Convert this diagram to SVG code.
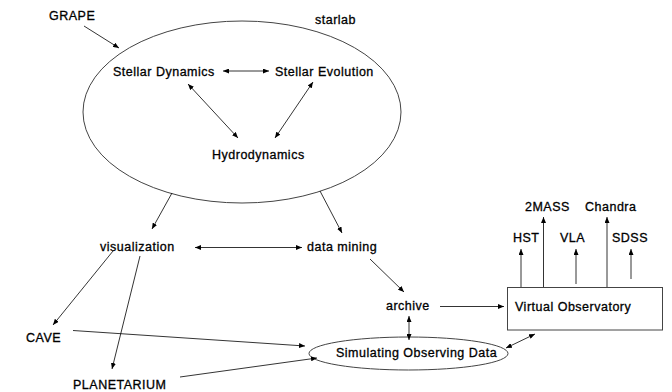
<svg xmlns="http://www.w3.org/2000/svg" width="672" height="392" viewBox="0 0 672 392">
<defs>
<marker id="ah" markerUnits="userSpaceOnUse" markerWidth="7" markerHeight="5" refX="6" refY="2.5" orient="auto-start-reverse">
<path d="M0,0 L6,2.5 L0,5 z" fill="#000"/>
</marker>
<style>
text{font-family:"Liberation Sans",Arial,sans-serif;font-size:12.5px;letter-spacing:0.5px;fill:#000;stroke:#000;stroke-width:0.3px}
.c{stroke:#000;stroke-width:0.8;fill:none}
.e{stroke:#444;stroke-width:1;fill:none}
</style>
</defs>
<rect width="672" height="392" fill="#fff"/>
<g id="starlab">
<ellipse class="e" cx="242" cy="112" rx="159" ry="91"/>
<text x="315" y="24">starlab</text>
</g>
<g id="grape"><text x="49" y="20">GRAPE</text></g>
<g id="stellar-dynamics"><text x="113" y="76">Stellar Dynamics</text></g>
<g id="stellar-evolution"><text x="275" y="76">Stellar Evolution</text></g>
<g id="hydrodynamics"><text x="212" y="159">Hydrodynamics</text></g>
<g id="visualization"><text x="100" y="251">visualization</text></g>
<g id="data-mining"><text x="307" y="251">data mining</text></g>
<g id="cave"><text x="26" y="342">CAVE</text></g>
<g id="planetarium"><text x="73" y="389">PLANETARIUM</text></g>
<g id="archive"><text x="386" y="310">archive</text></g>
<g id="simulating">
<ellipse class="e" cx="408.5" cy="353.5" rx="99.5" ry="16.5"/>
<text x="336" y="357">Simulating Observing Data</text>
</g>
<g id="virtual-observatory">
<rect class="e" x="507.5" y="287.5" width="155" height="42.5"/>
<text x="515" y="311">Virtual Observatory</text>
</g>
<g id="2mass"><text x="525" y="211">2MASS</text></g>
<g id="chandra"><text x="585" y="211">Chandra</text></g>
<g id="hst"><text x="513" y="242">HST</text></g>
<g id="vla"><text x="560" y="242">VLA</text></g>
<g id="sdss"><text x="612" y="242">SDSS</text></g>
<g id="connectors">
<line class="c" x1="84" y1="26" x2="119" y2="48" marker-end="url(#ah)"/>
<line class="c" x1="223" y1="71" x2="269" y2="71" marker-start="url(#ah)" marker-end="url(#ah)"/>
<line class="c" x1="188" y1="84" x2="238" y2="138" marker-start="url(#ah)" marker-end="url(#ah)"/>
<line class="c" x1="313" y1="82" x2="275" y2="138" marker-start="url(#ah)" marker-end="url(#ah)"/>
<line class="c" x1="172" y1="193" x2="152" y2="229" marker-end="url(#ah)"/>
<line class="c" x1="320" y1="191" x2="342" y2="233" marker-end="url(#ah)"/>
<line class="c" x1="195" y1="247.5" x2="302" y2="247.5" marker-start="url(#ah)" marker-end="url(#ah)"/>
<line class="c" x1="113" y1="251" x2="53" y2="325" marker-end="url(#ah)"/>
<line class="c" x1="140" y1="256" x2="112" y2="369" marker-end="url(#ah)"/>
<line class="c" x1="73" y1="330.5" x2="305" y2="346" marker-end="url(#ah)"/>
<line class="c" x1="180" y1="377" x2="317" y2="358" marker-end="url(#ah)"/>
<line class="c" x1="370" y1="259" x2="404" y2="292" marker-end="url(#ah)"/>
<line class="c" x1="440" y1="306.5" x2="504" y2="306.5" marker-end="url(#ah)"/>
<line class="c" x1="409" y1="316" x2="409" y2="340" marker-start="url(#ah)" marker-end="url(#ah)"/>
<line class="c" x1="506" y1="348" x2="535" y2="334" marker-start="url(#ah)" marker-end="url(#ah)"/>
<line class="c" x1="521" y1="287" x2="521" y2="249" marker-end="url(#ah)"/>
<line class="c" x1="543.5" y1="287" x2="543.5" y2="217" marker-end="url(#ah)"/>
<line class="c" x1="576" y1="284" x2="576" y2="249" marker-end="url(#ah)"/>
<line class="c" x1="607" y1="287" x2="607" y2="217" marker-end="url(#ah)"/>
<line class="c" x1="631" y1="279" x2="631" y2="249" marker-end="url(#ah)"/>
</g>
</svg>
